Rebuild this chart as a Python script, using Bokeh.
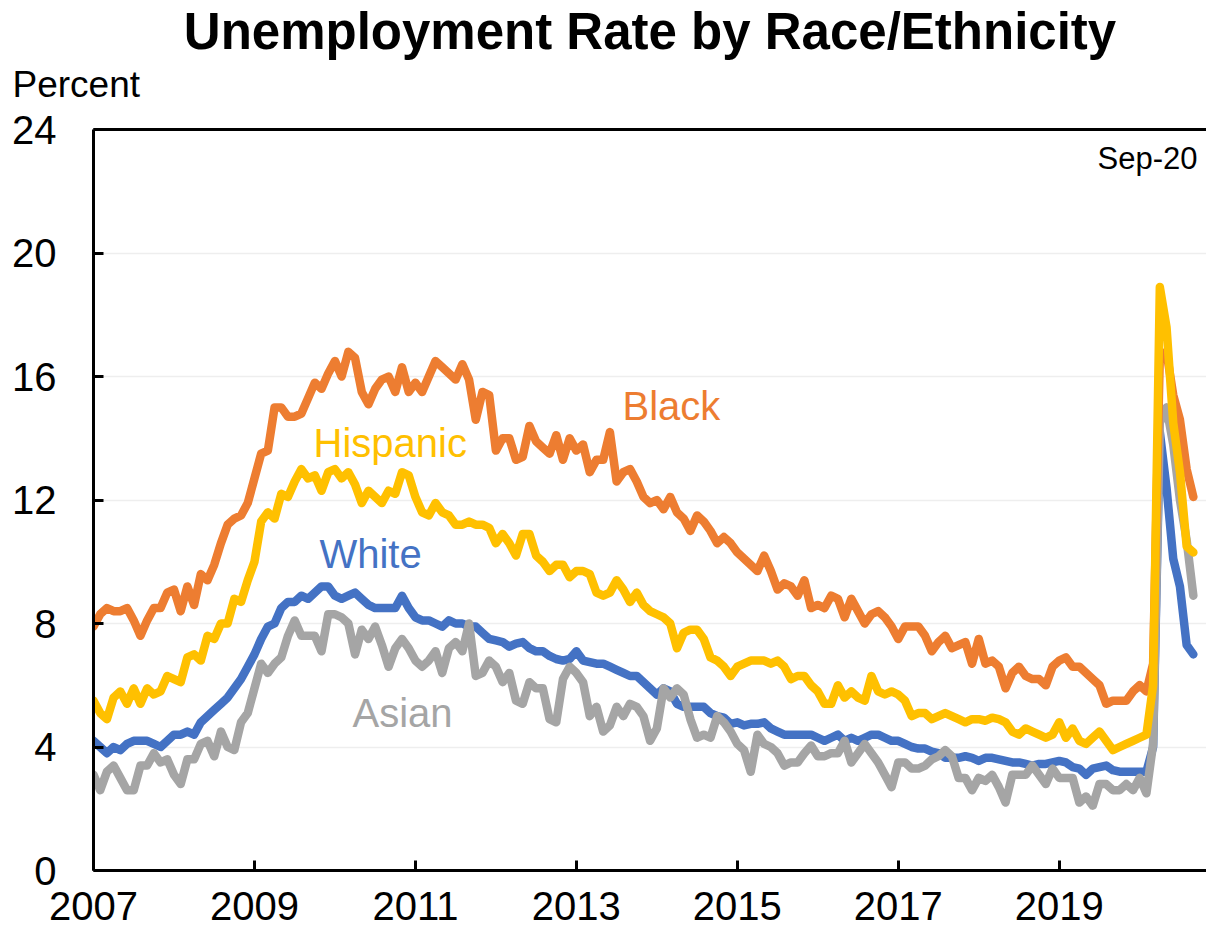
import pandas as pd
from bokeh.plotting import figure
from bokeh.models import Range1d, FixedTicker, LinearAxis, Label, ColumnDataSource, Title
from bokeh.embed import file_html
from bokeh.resources import INLINE

# ---------------- data (monthly, Jan 2007 - Sep 2020, percent) ----------------
months = pd.date_range("2007-01-01", "2020-09-01", freq="MS")

black = [
    7.9, 8.3, 8.5, 8.4, 8.4, 8.5, 8.1, 7.6, 8.1, 8.5, 8.5, 9.0,
    9.1, 8.4, 9.2, 8.6, 9.6, 9.4, 9.9, 10.6, 11.2, 11.4, 11.5, 11.9,
    12.7, 13.5, 13.6, 15.0, 15.0, 14.7, 14.7, 14.8, 15.3, 15.8, 15.6, 16.1,
    16.5, 16.0, 16.8, 16.6, 15.5, 15.1, 15.6, 15.9, 16.0, 15.5, 16.3, 15.5,
    15.8, 15.5, 16.0, 16.5, 16.3, 16.1, 15.9, 16.4, 15.9, 14.6, 15.5, 15.4,
    13.6, 14.0, 14.0, 13.3, 13.4, 14.4, 13.9, 13.7, 13.5, 14.1, 13.3, 14.0,
    13.6, 13.8, 12.9, 13.3, 13.3, 14.2, 12.6, 12.9, 13.0, 12.6, 12.1, 11.9,
    12.0, 11.7, 12.1, 11.6, 11.4, 11.0, 11.5, 11.3, 11.0, 10.6, 10.8, 10.6,
    10.3, 10.1, 9.9, 9.7, 10.2, 9.7, 9.1, 9.3, 9.2, 8.9, 9.4, 8.5,
    8.6, 8.5, 8.9, 8.8, 8.2, 8.8, 8.4, 8.0, 8.3, 8.4, 8.2, 7.9,
    7.5, 7.9, 7.9, 7.9, 7.6, 7.1, 7.4, 7.6, 7.2, 7.3, 7.4, 6.7,
    7.5, 6.7, 6.8, 6.6, 5.9, 6.4, 6.6, 6.3, 6.2, 6.2, 6.0, 6.6,
    6.8, 6.9, 6.6, 6.6, 6.4, 6.2, 6.0, 5.4, 5.5, 5.5, 5.5, 5.8,
    6.0, 5.8, 6.7, 16.7, 16.8, 15.4, 14.6, 13.0, 12.1,
]

hispanic = [
    5.5, 5.1, 4.9, 5.6, 5.8, 5.4, 5.9, 5.4, 5.9, 5.7, 5.8, 6.3,
    6.2, 6.1, 6.9, 7.0, 6.8, 7.6, 7.5, 8.0, 8.0, 8.8, 8.7, 9.4,
    10.0, 11.3, 11.6, 11.4, 12.2, 12.1, 12.6, 13.0, 12.7, 12.8, 12.3, 12.9,
    13.0, 12.7, 12.9, 12.5, 11.9, 12.3, 12.1, 11.9, 12.3, 12.2, 12.9, 12.8,
    12.1, 11.6, 11.5, 11.9, 11.6, 11.5, 11.2, 11.2, 11.3, 11.2, 11.2, 11.1,
    10.6, 10.9, 10.6, 10.2, 10.9, 10.9, 10.2, 10.0, 9.7, 9.9, 9.9, 9.5,
    9.7, 9.7, 9.6, 9.0, 8.9, 9.0, 9.4, 9.1, 8.7, 9.0, 8.6, 8.4,
    8.3, 8.2, 8.0, 7.2, 7.7, 7.8, 7.8, 7.5, 6.9, 6.8, 6.6, 6.3,
    6.6, 6.7, 6.8, 6.8, 6.8, 6.7, 6.8, 6.6, 6.2, 6.3, 6.3, 6.0,
    5.8, 5.4, 5.4, 6.0, 5.6, 5.8, 5.6, 5.5, 6.3, 5.8, 5.7, 5.8,
    5.7, 5.5, 5.0, 5.1, 5.1, 4.9, 5.0, 5.1, 5.0, 4.9, 4.8, 4.9,
    4.9, 4.85, 4.95, 4.9, 4.8, 4.5, 4.4, 4.6, 4.5, 4.4, 4.3, 4.4,
    4.8, 4.3, 4.6, 4.2, 4.1, 4.3, 4.5, 4.2, 3.9, 4.0, 4.1, 4.2,
    4.3, 4.4, 6.0, 18.9, 17.6, 14.5, 12.9, 10.5, 10.3,
]

white = [
    4.2, 4.0, 3.8, 4.0, 3.9, 4.1, 4.2, 4.2, 4.2, 4.1, 4.0, 4.2,
    4.4, 4.4, 4.5, 4.4, 4.8, 5.0, 5.2, 5.4, 5.6, 5.9, 6.2, 6.6,
    7.0, 7.5, 7.9, 8.0, 8.5, 8.7, 8.7, 8.9, 8.8, 9.0, 9.2, 9.2,
    8.9, 8.8, 8.9, 9.0, 8.8, 8.6, 8.5, 8.5, 8.5, 8.5, 8.9, 8.5,
    8.2, 8.1, 8.1, 8.0, 7.9, 8.1, 8.0, 8.0, 7.9, 7.9, 7.7, 7.5,
    7.45, 7.4, 7.25, 7.35, 7.4, 7.2, 7.1, 7.1, 6.95, 6.85, 6.8, 6.85,
    7.1, 6.8, 6.75, 6.7, 6.7, 6.6, 6.5, 6.4, 6.3, 6.3, 6.1, 5.9,
    5.7, 5.9, 5.8, 5.4, 5.3, 5.3, 5.3, 5.3, 5.1, 5.0, 4.95, 4.75,
    4.8, 4.7, 4.75, 4.75, 4.8, 4.6, 4.5, 4.4, 4.4, 4.4, 4.4, 4.4,
    4.3, 4.2, 4.3, 4.4, 4.2, 4.3, 4.2, 4.3, 4.4, 4.4, 4.3, 4.2,
    4.2, 4.1, 4.0, 3.95, 3.95, 3.85, 3.8, 3.65, 3.65, 3.65, 3.7, 3.65,
    3.55, 3.65, 3.65, 3.6, 3.55, 3.5, 3.5, 3.45, 3.4, 3.45, 3.45, 3.5,
    3.55, 3.5, 3.35, 3.3, 3.1, 3.3, 3.35, 3.4, 3.25, 3.2, 3.2, 3.2,
    3.2, 3.2, 4.0, 14.2, 12.4, 10.1, 9.2, 7.3, 7.0,
]

asian = [
    3.1, 2.6, 3.2, 3.4, 3.0, 2.6, 2.6, 3.4, 3.4, 3.8, 3.5, 3.6,
    3.1, 2.8, 3.6, 3.6, 4.1, 4.2, 3.7, 4.5, 4.0, 3.9, 4.8, 5.1,
    5.9, 6.7, 6.4, 6.7, 6.9, 7.6, 8.1, 7.6, 7.6, 7.6, 7.1, 8.3,
    8.3, 8.2, 8.0, 7.0, 7.8, 7.5, 7.9, 7.3, 6.6, 7.2, 7.5, 7.2,
    6.8, 6.6, 6.8, 7.1, 6.4, 7.2, 7.4, 7.1, 8.0, 6.3, 6.4, 6.8,
    6.6, 6.1, 6.4, 5.5, 5.4, 6.1, 5.9, 5.9, 4.9, 4.8, 6.2, 6.6,
    6.4, 6.1, 5.0, 5.3, 4.5, 4.7, 5.3, 5.0, 5.4, 5.3, 5.0, 4.2,
    4.6, 5.9, 5.6, 5.9, 5.7, 4.9, 4.3, 4.4, 4.3, 5.0, 4.8, 4.5,
    4.1, 3.9, 3.2, 4.4, 4.1, 4.0, 3.8, 3.4, 3.5, 3.5, 3.8, 4.05,
    3.7, 3.7, 3.8, 3.8, 4.2, 3.5, 3.8, 4.1, 3.8, 3.5, 3.1, 2.7,
    3.5, 3.5, 3.3, 3.3, 3.4, 3.6, 3.7, 3.9, 3.7, 3.0, 3.0, 2.6,
    3.0, 2.9, 3.1, 2.7, 2.2, 3.1, 3.1, 3.1, 3.4, 3.1, 2.8, 3.3,
    3.0, 3.0, 3.0, 2.2, 2.4, 2.1, 2.8, 2.8, 2.6, 2.6, 2.8, 2.6,
    3.0, 2.5, 4.1, 14.5, 15.0, 13.8, 12.0, 10.7, 8.9,
]

x_ticks = [2007, 2009, 2011, 2013, 2015, 2017, 2019]
y_ticks = [0, 4, 8, 12, 16, 20, 24]

series_names = ["White", "Asian", "Black", "Hispanic"]
series_colors = {"Black": "#ED7D31", "Hispanic": "#FFC000",
                 "White": "#4472C4", "Asian": "#A5A5A5"}
series_values = {"Black": black, "Hispanic": hispanic, "White": white, "Asian": asian}

title_text = "Unemployment Rate by Race/Ethnicity"
unit_text = "Percent"
date_note = "Sep-20"

FONT = "Liberation Sans"

# decimal-year position of each month
x_years = (months.year + (months.month - 1) / 12.0).tolist()
src = ColumnDataSource(dict(x=x_years, **series_values))

p = figure(width=1206, height=927,
           x_range=Range1d(2007, 2020.83), y_range=Range1d(0, 24),
           output_backend="svg", toolbar_location=None,
           min_border_left=93, min_border_right=0,
           min_border_top=128, min_border_bottom=57)
p.outline_line_color = None
p.background_fill_color = "white"
p.border_fill_color = "white"

p.xgrid.visible = False
p.ygrid.grid_line_color = "#EEEEEE"
p.ygrid.grid_line_width = 1.5

for ax in (p.xaxis[0], p.yaxis[0]):
    ax.axis_line_width = 3
    ax.axis_line_color = "black"
    ax.major_tick_line_width = 3
    ax.major_tick_line_color = "black"
    ax.major_tick_in = 10
    ax.major_tick_out = 0
    ax.minor_tick_line_color = None
    ax.major_label_text_font = FONT
    ax.major_label_text_font_size = "40px"
    ax.major_label_text_color = "black"

p.xaxis.ticker = FixedTicker(ticks=x_ticks)
p.yaxis.ticker = FixedTicker(ticks=y_ticks)
p.xaxis.major_label_standoff = 21
p.yaxis.major_label_standoff = 37

# top frame line (no ticks); a blank axis label spaces the titles above it
top_axis = LinearAxis(ticker=FixedTicker(ticks=[]), axis_line_width=3,
                      axis_line_color="black", major_tick_line_color=None,
                      minor_tick_line_color=None, major_label_standoff=0,
                      major_tick_out=0, major_tick_in=0,
                      major_label_text_font_size="0px",
                      axis_label=" ", axis_label_standoff=18,
                      axis_label_text_font_size="1px")
p.add_layout(top_axis, "above")

p.add_layout(Title(text=unit_text, align="left", offset=-81, standoff=5,
                   text_font=FONT, text_font_size="37px",
                   text_font_style="normal", text_color="black"), "above")
p.add_layout(Title(text=title_text, align="center", standoff=0,
                   text_font=FONT, text_font_size="51px",
                   text_font_style="bold", text_color="black"), "above")

for name in series_names:
    p.line("x", name, source=src, line_color=series_colors[name],
           line_width=8.5, line_join="round", line_cap="round")

p.add_layout(Label(x=2020.718, y=23.07, text=date_note, text_align="right",
                   text_baseline="alphabetic", text_font=FONT,
                   text_font_size="31px", text_color="black"))

label_pos = {"Black": (2013.573, 15.03), "Hispanic": (2009.734, 13.86),
             "White": (2009.808, 10.24), "Asian": (2010.218, 5.10)}
for name, (lx, ly) in label_pos.items():
    p.add_layout(Label(x=lx, y=ly, text=name, text_align="left",
                       text_baseline="alphabetic", text_font=FONT,
                       text_font_size="40px", text_color=series_colors[name]))

open("out.html", "w").write(file_html(p, INLINE))
